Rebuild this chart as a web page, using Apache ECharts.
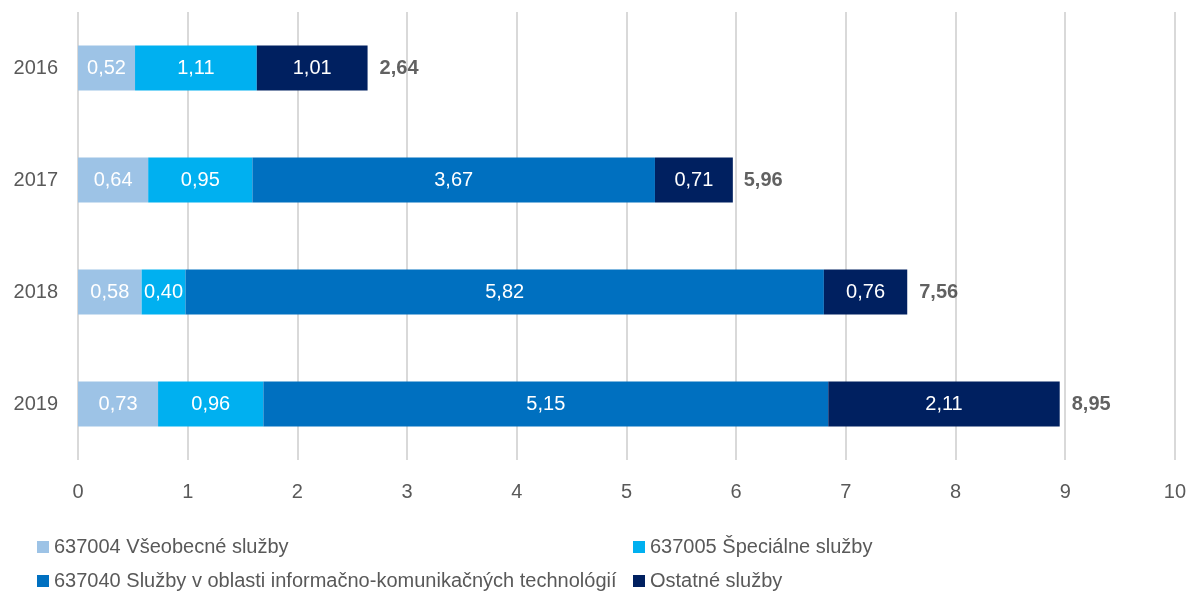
<!DOCTYPE html>
<html>
<head>
<meta charset="utf-8">
<script src="https://cdn.jsdelivr.net/npm/echarts@6/dist/echarts.min.js"></script>
<style>
  html, body { margin: 0; padding: 0; background: #fff; }
  #chart { width: 1189px; height: 591px; }
</style>
</head>
<body>
<div id="chart"></div>
<script>
const years = ['2016', '2017', '2018', '2019']
const seriesNames = [
  '637004 Všeobecné služby',
  '637005 Špeciálne služby',
  '637040 Služby v oblasti informačno-komunikačných technológií',
  'Ostatné služby'
]
const vseobecne = [0.52, 0.64, 0.58, 0.73]
const specialne = [1.11, 0.95, 0.40, 0.96]
const ikt = [0, 3.67, 5.82, 5.15]
const ostatne = [1.01, 0.71, 0.76, 2.11]
const totals = [2.64, 5.96, 7.56, 8.95]
const xTicks = [0, 10, 1]

const colors = ['#9DC3E6', '#00B0F0', '#0070C0', '#002060']
const font = '"Liberation Sans", Arial, sans-serif'
const fmt = v => v.toFixed(2).replace('.', ',')

const chart = echarts.init(document.getElementById('chart'))

const values = [vseobecne, specialne, ikt, ostatne]
const barSeries = values.map((data, i) => ({
  name: seriesNames[i],
  type: 'bar',
  stack: 'total',
  barWidth: 45,
  data: data,
  itemStyle: { color: colors[i] },
  label: {
    show: true,
    position: 'inside',
    color: '#fff',
    fontSize: 20,
    fontFamily: font,
    formatter: p => p.value ? fmt(p.value) : ''
  }
}))

// legenda 2 x 2 ako v originale
const legendPos = [
  { left: 32, top: 532 },
  { left: 628, top: 532 },
  { left: 32, top: 566 },
  { left: 628, top: 566 }
]

chart.setOption({
  animation: false,
  textStyle: { fontFamily: font },
  grid: { left: 78, right: 11, top: 12, bottom: 131 },
  legend: seriesNames.map((n, i) => ({
    data: [n],
    left: legendPos[i].left,
    top: legendPos[i].top,
    itemWidth: 12,
    itemHeight: 12,
    icon: 'rect',
    textStyle: { fontSize: 20, color: '#595959', fontFamily: font }
  })),
  xAxis: {
    type: 'value',
    min: xTicks[0],
    max: xTicks[1],
    interval: xTicks[2],
    axisLine: { show: false },
    axisTick: { show: false },
    splitLine: { lineStyle: { color: '#d9d9d9', width: 2 } },
    axisLabel: { fontSize: 20, color: '#595959', margin: 22, fontFamily: font }
  },
  yAxis: {
    type: 'category',
    inverse: true,
    data: years,
    axisLine: { show: false },
    axisTick: { show: false },
    axisLabel: { fontSize: 20, color: '#595959', margin: 20, fontFamily: font }
  },
  series: barSeries.concat([{
    name: 'Spolu',
    type: 'scatter',
    symbolSize: 0,
    data: totals,
    silent: true,
    label: {
      show: true,
      position: 'right',
      distance: 12,
      color: '#3a3a3a',
      fontWeight: 'bold',
      fontSize: 20,
      fontFamily: font,
      formatter: p => fmt(p.value)
    }
  }])
})
</script>
</body>
</html>
